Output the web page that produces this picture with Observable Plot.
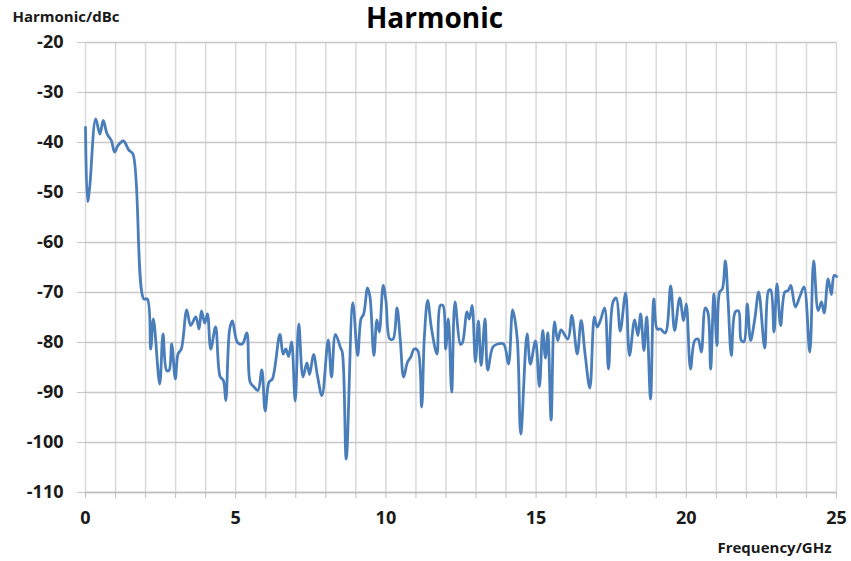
<!DOCTYPE html>
<html>
<head>
<meta charset="utf-8">
<script src="https://cdn.jsdelivr.net/npm/d3@7"></script>
<script src="https://cdn.jsdelivr.net/npm/@observablehq/plot@0.6"></script>
<style>
  body { margin: 0; background: #fff; }
</style>
</head>
<body>
<div id="chart"></div>
<script>
const freq = [0, 0.07, 0.14, 0.34, 0.48, 0.59, 0.72, 0.86, 0.97, 1.08, 1.26, 1.44, 1.58, 1.94, 2.06, 2.17, 2.26, 2.47, 2.58, 2.7, 2.78, 2.87, 2.99, 3.08, 3.19, 3.37, 3.5, 3.67, 3.78, 3.86, 3.97, 4.06, 4.17, 4.33, 4.48, 4.59, 4.67, 4.8, 4.89, 5.06, 5.22, 5.37, 5.48, 5.61, 5.74, 5.87, 5.98, 6.11, 6.22, 6.47, 6.58, 6.67, 6.76, 6.86, 6.98, 7.1, 7.24, 7.37, 7.46, 7.59, 7.72, 7.87, 8.08, 8.19, 8.32, 8.48, 8.55, 8.68, 8.9, 9.06, 9.17, 9.26, 9.39, 9.47, 9.6, 9.7, 9.78, 9.91, 10.0, 10.13, 10.24, 10.37, 10.48, 10.59, 10.72, 10.83, 10.94, 11.06, 11.19, 11.28, 11.39, 11.52, 11.7, 11.81, 11.9, 11.99, 12.08, 12.19, 12.3, 12.48, 12.55, 12.7, 12.78, 12.87, 12.98, 13.08, 13.17, 13.3, 13.39, 13.56, 13.72, 13.92, 14.08, 14.22, 14.37, 14.49, 14.7, 14.81, 14.98, 15.11, 15.22, 15.31, 15.39, 15.5, 15.61, 15.72, 15.83, 16.06, 16.19, 16.37, 16.5, 16.63, 16.79, 16.94, 17.03, 17.14, 17.28, 17.41, 17.56, 17.67, 17.8, 17.98, 18.11, 18.28, 18.39, 18.48, 18.59, 18.68, 18.81, 18.92, 19.03, 19.14, 19.3, 19.48, 19.61, 19.78, 19.91, 20.0, 20.14, 20.28, 20.39, 20.5, 20.63, 20.72, 20.81, 20.92, 21.02, 21.11, 21.2, 21.3, 21.39, 21.5, 21.63, 21.74, 21.83, 21.92, 22.03, 22.14, 22.28, 22.41, 22.61, 22.74, 22.81, 22.92, 23.02, 23.14, 23.28, 23.39, 23.48, 23.63, 23.78, 23.92, 24.11, 24.24, 24.39, 24.5, 24.59, 24.72, 24.83, 24.92, 25];
const harmonic = [-37, -51.8, -48.9, -35.3, -38.3, -35.6, -38.3, -39.6, -41.9, -40.6, -39.7, -41.5, -42.3, -71.3, -71.3, -81.3, -75.3, -88.3, -78.3, -85.6, -85.6, -80.3, -87.3, -82.3, -81.3, -73.5, -76.6, -74.9, -77.3, -73.7, -76.1, -74.3, -81.3, -76.9, -86.8, -87.6, -91.6, -77.3, -75.7, -80, -80.3, -78.1, -87.9, -88.9, -89.6, -85.5, -93.7, -87.9, -87.3, -78.4, -82.3, -81.3, -82.8, -79.9, -91.7, -76.3, -86.9, -84.1, -86.4, -82.4, -86.6, -90.6, -79.5, -86.9, -78.4, -80.9, -82, -103.3, -72.1, -82.6, -75.3, -74.3, -69.1, -70.9, -82.6, -75.5, -77.9, -68.6, -71.6, -79.3, -79.3, -73.1, -79.6, -86.9, -83.9, -82.9, -81.3, -81.6, -92.9, -78.9, -71.6, -77.3, -82.3, -72.6, -72.6, -81.3, -75.3, -89.9, -71.9, -80.4, -80, -73.9, -75.3, -72.6, -83.9, -75.7, -84.6, -75.3, -85.5, -80.9, -80.3, -80.3, -84.3, -73.5, -79.1, -98.3, -78.3, -84.3, -79.7, -88.8, -77.6, -83.1, -78.1, -95.5, -75.9, -79.6, -77.5, -79.3, -74.6, -82.3, -75.6, -82.3, -89.1, -74.9, -76.9, -75.6, -73.1, -85.3, -71.9, -71.1, -77.7, -70.1, -82.6, -75.5, -78.6, -74.3, -81.6, -74.9, -91.3, -71.3, -77.3, -77.3, -78.1, -68.7, -77.6, -71.1, -75.6, -72.3, -85.3, -79.6, -79.3, -81.9, -73.1, -74, -85.3, -70.3, -80.6, -69.9, -69.3, -63.7, -71.6, -82.6, -73.9, -73.7, -79.6, -79.8, -72.3, -79.6, -75.3, -69.9, -81.1, -69.6, -69.5, -77.9, -68.3, -76.6, -69.9, -69.6, -68.6, -72.9, -70.8, -68.9, -81.9, -63.7, -73.6, -71.9, -74.1, -67.3, -70.4, -66.6, -66.8];

const xGridTicks = d3.range(0, 26, 1);
const xLabelTicks = [0, 5, 10, 15, 20, 25];
const yTicks = [-110, -100, -90, -80, -70, -60, -50, -40, -30, -20];

const titleText = "Harmonic";
const yLabelText = "Harmonic/dBc";
const xLabelText = "Frequency/GHz";

const data = freq.map((f, i) => ({f, h: harmonic[i]}));

const chart = Plot.plot({
  width: 851,
  height: 561,
  marginLeft: 85,
  marginRight: 15,
  marginTop: 42,
  marginBottom: 69,
  x: {domain: [0, 25], label: null},
  y: {domain: [-110, -20], label: null},
  style: {fontFamily: "'Open Sans', sans-serif", fontWeight: "bold", color: "#1a1a1a", background: "#fff", overflow: "visible"},
  marks: [
    Plot.ruleX(xGridTicks, {stroke: "#d9d9d9", strokeWidth: 1.5}),
    Plot.ruleY(yTicks, {stroke: "#c8c8c8", strokeWidth: 1.5}),
    Plot.axisX({
      ticks: xGridTicks,
      tickSize: 6,
      tickPadding: 13,
      stroke: "#bfbfbf",
      fontSize: 18,
      tickFormat: d => (xLabelTicks.includes(d) ? String(d) : ""),
      label: null
    }),
    Plot.axisY({
      ticks: yTicks,
      tickSize: 8,
      tickPadding: 14,
      stroke: "#c8c8c8",
      fontSize: 18,
      tickFormat: d => String(d),
      label: null
    }),
    Plot.ruleY([-110], {stroke: "#bfbfbf", strokeWidth: 1.5}),
    Plot.lineY(data, {x: "f", y: "h", stroke: "#4a7ebb", strokeWidth: 2.8, curve: "catmull-rom"}),
    Plot.text([titleText], {frameAnchor: "top-left", dx: 349, dy: -23, textAnchor: "middle", lineAnchor: "middle", fontSize: 28, fontWeight: "bold", fill: "#000"}),
    Plot.text([yLabelText], {frameAnchor: "top-left", dx: -73, dy: -25, textAnchor: "start", lineAnchor: "middle", fontSize: 15, fontWeight: "bold", fill: "#1a1a1a"}),
    Plot.text([xLabelText], {frameAnchor: "bottom-right", dx: -5, dy: 56, textAnchor: "end", lineAnchor: "middle", fontSize: 15, fontWeight: "bold", fill: "#1a1a1a"})
  ]
});

document.getElementById("chart").appendChild(chart);
</script>
</body>
</html>
